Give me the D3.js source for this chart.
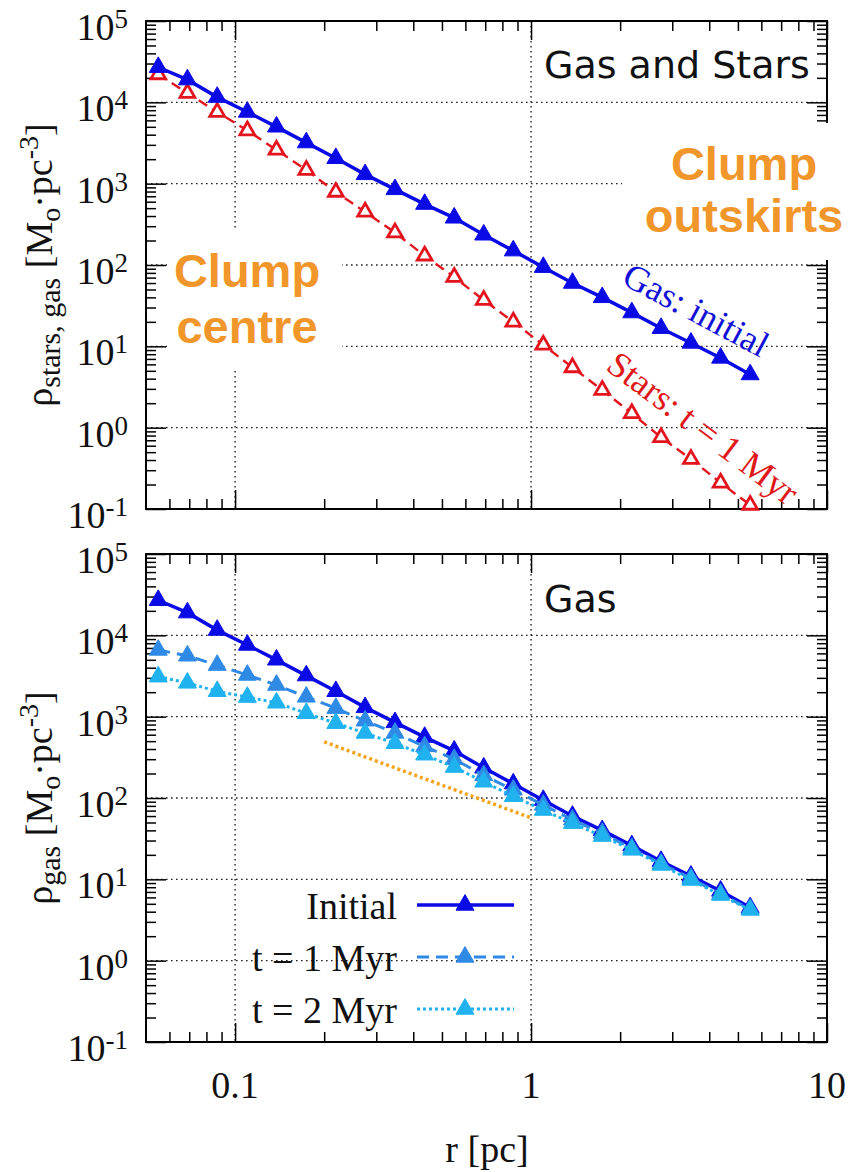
<!DOCTYPE html>
<html>
<head>
<meta charset="utf-8">
<script src="https://cdn.jsdelivr.net/npm/d3@7"></script>
<style>
  body { margin: 0; background: #fff; }
  text { font-family: "Liberation Serif", "Times New Roman", serif; }
</style>
</head>
<body>
<svg id="chart" width="855" height="1172"></svg>
<script>
// Radial density profiles of the clump (gas and stars)
const radius = [0.055, 0.069, 0.087, 0.110, 0.138, 0.174, 0.219, 0.275, 0.347, 0.437,
                0.550, 0.692, 0.871, 1.10, 1.38, 1.74, 2.19, 2.75, 3.47, 4.37, 5.50];
const gasInitial = [2.7e4, 1.9e4, 1.16e4, 7.6e3, 5.0e3, 3.2e3, 2.05e3, 1.3e3, 850, 560,
                    380, 235, 150, 94, 60, 40, 26, 16.7, 11, 7.2, 4.5];
const starsOneMyr = [2.2e4, 1.3e4, 7.6e3, 4.5e3, 2.6e3, 1.47e3, 790, 450, 250, 130,
                     71, 37, 20, 10.4, 5.5, 2.9, 1.5, 0.76, 0.41, 0.21, 0.112];
const gasOneMyr = [6.6e3, 5.6e3, 4.3e3, 3.25e3, 2.45e3, 1.75e3, 1.27e3, 890, 630, 430,
                   300, 190, 126, 82, 54, 37, 24, 15.5, 10.3, 6.6, 4.3];
const gasTwoMyr = [3.1e3, 2.6e3, 2.05e3, 1.74e3, 1.48e3, 1.1e3, 830, 630, 470, 340,
                   240, 158, 105, 71, 49, 34, 23, 15, 9.8, 6.4, 4.2];
// reference power-law segment
const refR = [0.2, 1];
const refRho = [490, 57];

const xTicks = [0.1, 1, 10];
const xTickLabels = ["0.1", "1", "10"];
const yTicks = [1e-1, 1e0, 1e1, 1e2, 1e3, 1e4, 1e5];
const yTickExponents = ["-1", "0", "1", "2", "3", "4", "5"];
const legendLabels = ["Initial", "t = 1 Myr", "t = 2 Myr"];

const svg = d3.select("#chart");
const x = d3.scaleLog().domain([0.05, 10]).range([146, 827]);
const left = 146, right = 827;

function minorTicks(domain) {
  const out = [];
  for (let e = -3; e <= 6; e++) {
    for (let k = 2; k <= 9; k++) {
      const v = k * Math.pow(10, e);
      if (v > domain[0] * 1.0001 && v < domain[1] * 0.9999) out.push(v);
    }
  }
  return out;
}
const xMinor = minorTicks(x.domain());

function makePanel(top, bottom) {
  const y = d3.scaleLog().domain([0.1, 1e5]).range([bottom, top]);
  const g = svg.append("g");
  const yMinor = minorTicks(y.domain());

  // dotted grid
  const grid = g.append("g").attr("stroke", "#222").attr("stroke-width", 1.4)
    .attr("stroke-dasharray", "1.6,3.4").attr("fill", "none");
  grid.selectAll("line.h").data(yTicks.slice(1, -1)).join("line")
    .attr("x1", left).attr("x2", right).attr("y1", d => y(d)).attr("y2", d => y(d));
  grid.selectAll("line.v").data(xTicks.slice(0, 2)).join("line")
    .attr("x1", d => x(d)).attr("x2", d => x(d)).attr("y1", top).attr("y2", bottom);

  // ticks on all four sides, pointing inwards
  const tickGroup = (axis, tf) => {
    const a = g.append("g").attr("transform", tf).call(axis);
    a.select(".domain").remove();
    a.selectAll("line").attr("stroke", "#000").attr("stroke-width", 1.5);
    a.selectAll("text").remove();
  };
  tickGroup(d3.axisBottom(x).tickValues(xTicks).tickSize(-19), `translate(0,${bottom})`);
  tickGroup(d3.axisBottom(x).tickValues(xMinor).tickSize(-10), `translate(0,${bottom})`);
  tickGroup(d3.axisTop(x).tickValues(xTicks).tickSize(-19), `translate(0,${top})`);
  tickGroup(d3.axisTop(x).tickValues(xMinor).tickSize(-10), `translate(0,${top})`);
  tickGroup(d3.axisLeft(y).tickValues(yTicks).tickSize(-20), `translate(${left},0)`);
  tickGroup(d3.axisLeft(y).tickValues(yMinor).tickSize(-10), `translate(${left},0)`);
  tickGroup(d3.axisRight(y).tickValues(yTicks).tickSize(-20), `translate(${right},0)`);
  tickGroup(d3.axisRight(y).tickValues(yMinor).tickSize(-10), `translate(${right},0)`);

  g.append("rect").attr("x", left).attr("y", top).attr("width", right - left)
    .attr("height", bottom - top).attr("fill", "none").attr("stroke", "#000").attr("stroke-width", 2);

  // y tick labels: 10^n
  const lab = g.append("g").selectAll("text").data(yTicks).join("text")
    .attr("x", 128).attr("y", d => y(d) + 19).attr("text-anchor", "end")
    .attr("font-size", 38).attr("fill", "#111");
  lab.append("tspan").text("10");
  lab.append("tspan").attr("dy", -12).attr("font-size", 27)
    .text((d, i) => yTickExponents[i]);

  return { g, y, top, bottom };
}

function yTitle(center, sub) {
  const t = svg.append("text").attr("transform", `translate(52,${center}) rotate(-90)`)
    .attr("text-anchor", "middle").attr("font-size", 38).attr("fill", "#111");
  t.append("tspan").text("ρ");
  t.append("tspan").attr("dy", 8).attr("font-size", 30).text(sub);
  t.append("tspan").attr("dy", -8).text(" [M");
  t.append("tspan").attr("dy", 8).attr("font-size", 28).text("o");
  t.append("tspan").attr("dy", -8).text("·pc");
  t.append("tspan").attr("dy", -14).attr("font-size", 28).text("-3");
  t.append("tspan").attr("dy", 14).text("]");
}

const triangle = d3.symbol().type(d3.symbolTriangle).size(140);
const openTriangle = d3.symbol().type(d3.symbolTriangle).size(95);

function series(panel, values, opt) {
  const pts = radius.map((r, i) => [r, values[i]]);
  const line = d3.line().x(d => x(d[0])).y(d => panel.y(d[1]));
  panel.g.append("path").datum(pts).attr("d", line).attr("fill", "none")
    .attr("stroke", opt.color).attr("stroke-width", opt.width)
    .attr("stroke-dasharray", opt.dash || null);
  panel.g.append("g").selectAll("path").data(pts).join("path")
    .attr("transform", d => `translate(${x(d[0])},${panel.y(d[1])})`)
    .attr("d", opt.open ? openTriangle : triangle)
    .attr("fill", opt.open ? "#fff" : opt.color)
    .attr("stroke", opt.color).attr("stroke-width", opt.open ? 2.8 : 1);
}

// ---------- upper panel: gas and stars ----------
const p1 = makePanel(21, 509);
// label backdrops
p1.g.append("rect").attr("x", 167).attr("y", 230).attr("width", 175).attr("height", 138).attr("fill", "#fff");
p1.g.append("rect").attr("x", 622).attr("y", 123).attr("width", 233).attr("height", 137).attr("fill", "#fff");

series(p1, starsOneMyr, { color: "#e3141e", width: 2.4, dash: "10,6", open: true });
series(p1, gasInitial, { color: "#0a0ae6", width: 3.5 });

p1.g.append("text").attr("x", 544).attr("y", 78)
  .style("font-family", "'DejaVu Sans', sans-serif").attr("font-size", 38).attr("fill", "#111")
  .text("Gas and Stars");

p1.g.append("text").attr("transform", "translate(696,310) rotate(28)")
  .attr("text-anchor", "middle").attr("dominant-baseline", "central")
  .attr("font-size", 36).attr("fill", "#1010d8").text("Gas: initial");
p1.g.append("text").attr("transform", "translate(703,428) rotate(37)")
  .attr("text-anchor", "middle").attr("dominant-baseline", "central")
  .attr("font-size", 36).attr("fill", "#e01818").text("Stars: t = 1 Myr");

const orange = "#f0962a";
function boldLabel(lines, cx, baselines) {
  lines.forEach((s, i) => {
    svg.append("text").attr("x", cx).attr("y", baselines[i]).attr("text-anchor", "middle")
      .style("font-family", "'Liberation Sans', Arial, sans-serif").attr("font-weight", "bold")
      .attr("font-size", 47).attr("fill", orange).text(s);
  });
}
boldLabel(["Clump", "centre"], 247, [287, 343]);
boldLabel(["Clump", "outskirts"], 744, [180, 232]);

yTitle(265, "stars, gas");

// ---------- lower panel: gas evolution ----------
const p2 = makePanel(554, 1042);
p2.g.append("path").datum(refR.map((r, i) => [r, refRho[i]]))
  .attr("d", d3.line().x(d => x(d[0])).y(d => p2.y(d[1])))
  .attr("fill", "none").attr("stroke", "#f5a31a").attr("stroke-width", 3.5)
  .attr("stroke-dasharray", "3,3");

const styles = [
  { color: "#0a0ae6", width: 3.5 },
  { color: "#2f8ae6", width: 3, dash: "12,7" },
  { color: "#1fb2ee", width: 3, dash: "3,3" }
];
series(p2, gasInitial, styles[0]);
series(p2, gasOneMyr, styles[1]);
series(p2, gasTwoMyr, styles[2]);

p2.g.append("text").attr("x", 544).attr("y", 612)
  .style("font-family", "'DejaVu Sans', sans-serif").attr("font-size", 38).attr("fill", "#111")
  .text("Gas");

// legend
const legendY = [905, 957, 1009];
legendLabels.forEach((s, i) => {
  const st = styles[i];
  p2.g.append("text").attr("x", 397).attr("y", legendY[i] + 14).attr("text-anchor", "end")
    .attr("font-size", 38).attr("fill", "#111").text(s);
  p2.g.append("line").attr("x1", 417).attr("x2", 514).attr("y1", legendY[i]).attr("y2", legendY[i])
    .attr("stroke", st.color).attr("stroke-width", st.width).attr("stroke-dasharray", st.dash || null);
  p2.g.append("path").attr("transform", `translate(465,${legendY[i]})`).attr("d", triangle)
    .attr("fill", st.color).attr("stroke", st.color);
});

yTitle(798, "gas");

// x tick labels and title
svg.append("g").selectAll("text").data(xTicks).join("text")
  .attr("x", d => x(d)).attr("y", 1098).attr("text-anchor", "middle")
  .attr("font-size", 38).attr("fill", "#111").text((d, i) => xTickLabels[i]);
svg.append("text").attr("x", 487).attr("y", 1162).attr("text-anchor", "middle")
  .attr("font-size", 38).attr("fill", "#111").text("r [pc]");
</script>
</body>
</html>
